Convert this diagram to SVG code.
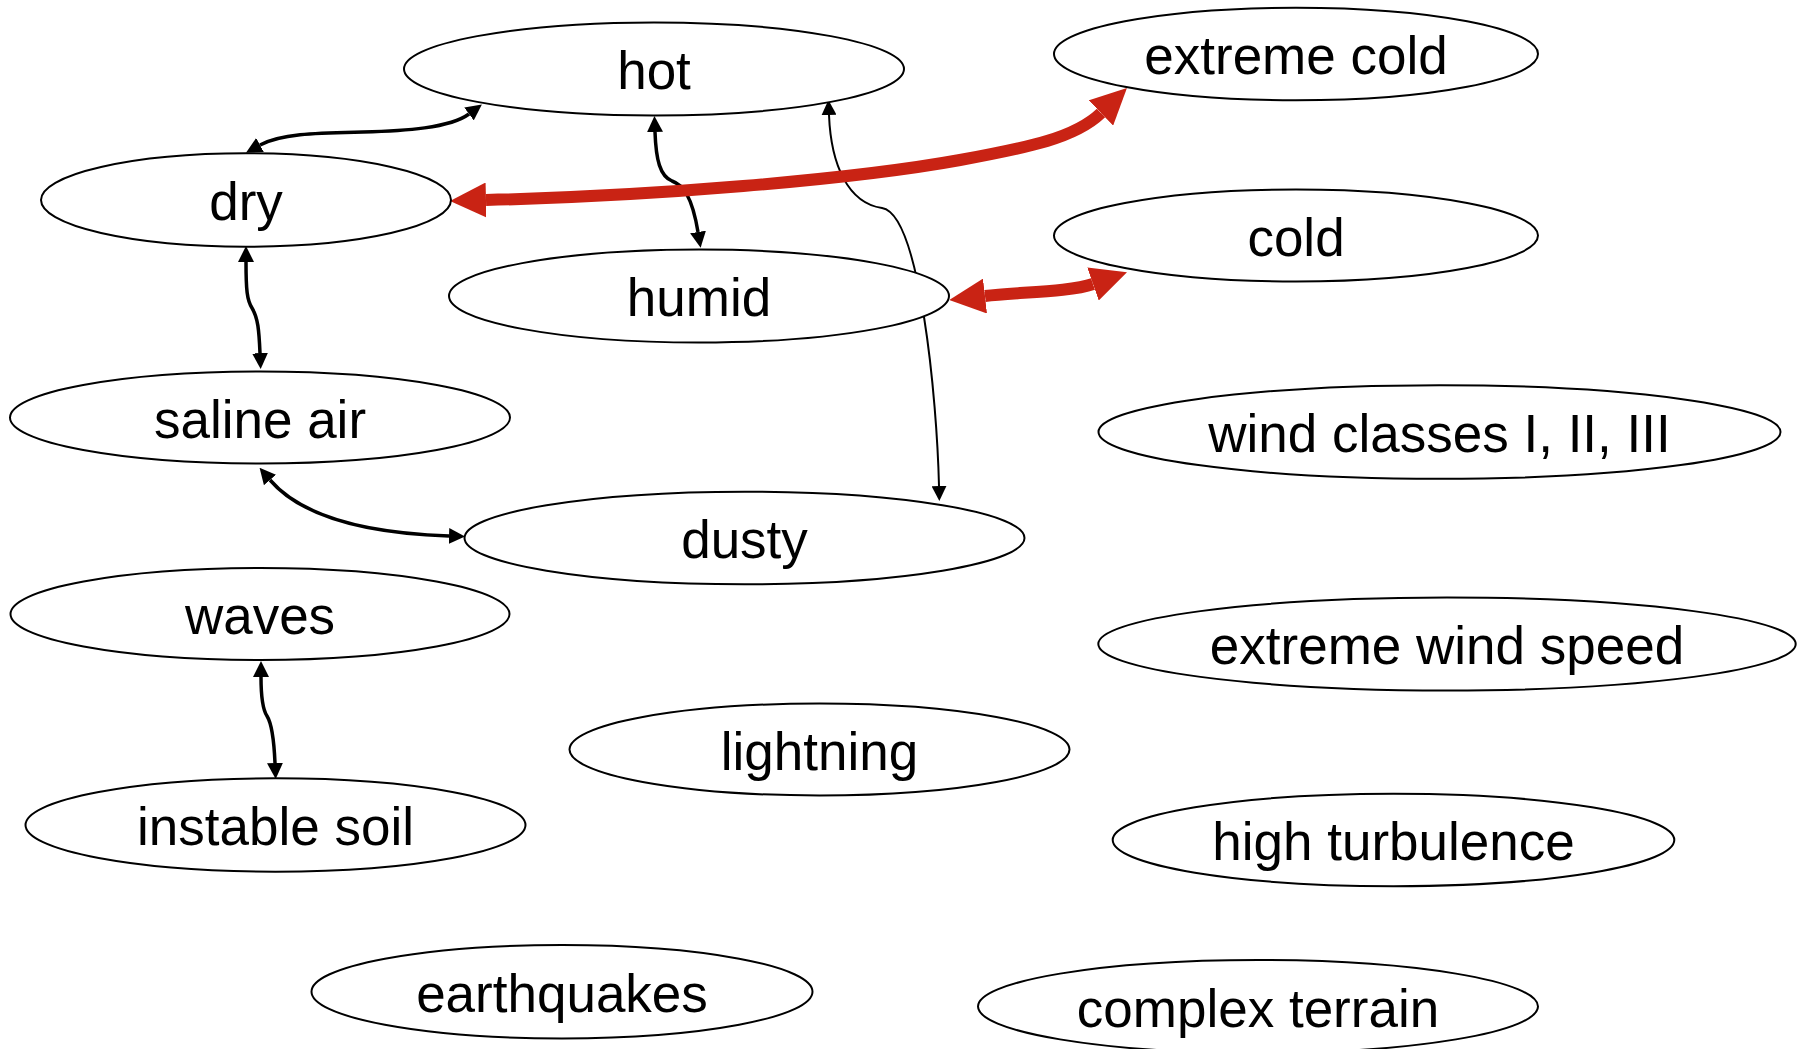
<svg xmlns="http://www.w3.org/2000/svg" width="1804" height="1049" viewBox="0 0 1804 1049">
  <defs>
    <style>
      .node ellipse { fill: #ffffff; stroke: #000000; stroke-width: 2; }
      .node text { font-family: "Liberation Sans", Arial, sans-serif; font-size: 53px; fill: #000000; text-anchor: middle; }
      .edge { fill: none; stroke: #000000; stroke-width: 3.5; }
      .edge.thin { stroke-width: 2; }
      .edge.red { stroke: #c92314; stroke-width: 12; }
    </style>
    <marker id="arrow" markerUnits="userSpaceOnUse" markerWidth="16" markerHeight="16" refX="0" refY="8" orient="auto-start-reverse" viewBox="0 0 16 16">
      <path d="M0,0 L16,8 L0,16 z" fill="#000000"/>
    </marker>
    <marker id="arrow-thin" markerUnits="userSpaceOnUse" markerWidth="15" markerHeight="15" refX="0" refY="7.5" orient="auto-start-reverse" viewBox="0 0 15 15">
      <path d="M0,0 L15,7.5 L0,15 z" fill="#000000"/>
    </marker>
    <marker id="arrow-red" markerUnits="userSpaceOnUse" markerWidth="36" markerHeight="35" refX="0" refY="17.5" orient="auto-start-reverse" viewBox="0 0 36 35">
      <path d="M0,0 L36,17.5 L0,35 z" fill="#c92314"/>
    </marker>
  </defs>

  <rect x="0" y="0" width="1804" height="1049" fill="#ffffff"/>

  <g id="connectors">
    <!-- dry <-> hot -->
    <path class="edge" d="M260,145 C282,133 320,133 363,132 C405,131 450,128 469,114" marker-start="url(#arrow)" marker-end="url(#arrow)"/>
    <!-- hot <-> humid -->
    <path class="edge" d="M655,132 C656,160 660,176 672,181 C683,185 692,196 698,232" marker-start="url(#arrow)" marker-end="url(#arrow)"/>
    <!-- hot <-> dusty -->
    <path class="edge thin" d="M829,115 C831,165 848,203 882,208 C920,214 937,400 939,486" marker-start="url(#arrow-thin)" marker-end="url(#arrow-thin)"/>
    <!-- dry <-> saline air -->
    <path class="edge" d="M246,262 C246,290 247,300 252,308 C258,318 259,330 260,353" marker-start="url(#arrow)" marker-end="url(#arrow)"/>
    <!-- saline air <-> dusty -->
    <path class="edge" d="M270,480 C300,515 360,533 449,536" marker-start="url(#arrow)" marker-end="url(#arrow)"/>
    <!-- waves <-> instable soil -->
    <path class="edge" d="M261,677 C261,700 263,710 267,716 C272,724 274,740 275,763" marker-start="url(#arrow)" marker-end="url(#arrow)"/>
    <!-- dry <-> extreme cold -->
    <path class="edge red" d="M486,200 C650,196 850,180 960,160 C1030,147 1075,138 1101,113" marker-start="url(#arrow-red)" marker-end="url(#arrow-red)"/>
    <!-- humid <-> cold -->
    <path class="edge red" d="M985,296 C1020,292 1070,292 1093,284" marker-start="url(#arrow-red)" marker-end="url(#arrow-red)"/>
  </g>

  <g id="node-hot" class="node">
    <ellipse cx="654" cy="69" rx="250" ry="46.5"/>
    <text x="654" y="89">hot</text>
  </g>
  <g id="node-extreme-cold" class="node">
    <ellipse cx="1296" cy="54" rx="242" ry="46.3"/>
    <text x="1296" y="74">extreme cold</text>
  </g>
  <g id="node-dry" class="node">
    <ellipse cx="246" cy="200" rx="205" ry="46.7"/>
    <text x="246" y="220">dry</text>
  </g>
  <g id="node-cold" class="node">
    <ellipse cx="1296" cy="235.5" rx="242" ry="46"/>
    <text x="1296" y="255.5">cold</text>
  </g>
  <g id="node-humid" class="node">
    <ellipse cx="699" cy="296" rx="250" ry="46.5"/>
    <text x="699" y="316">humid</text>
  </g>
  <g id="node-saline-air" class="node">
    <ellipse cx="260" cy="417.5" rx="250" ry="46"/>
    <text x="260" y="437.5">saline air</text>
  </g>
  <g id="node-wind-classes" class="node">
    <ellipse cx="1439.5" cy="432" rx="341" ry="46.8"/>
    <text x="1439.5" y="452">wind classes I, II, III</text>
  </g>
  <g id="node-dusty" class="node">
    <ellipse cx="744.5" cy="538" rx="280" ry="46.3"/>
    <text x="744.5" y="558">dusty</text>
  </g>
  <g id="node-waves" class="node">
    <ellipse cx="260" cy="614" rx="249.5" ry="46"/>
    <text x="260" y="634">waves</text>
  </g>
  <g id="node-extreme-wind-speed" class="node">
    <ellipse cx="1447" cy="644" rx="348.7" ry="46.5"/>
    <text x="1447" y="664">extreme wind speed</text>
  </g>
  <g id="node-lightning" class="node">
    <ellipse cx="819.5" cy="749.5" rx="250" ry="46"/>
    <text x="819.5" y="769.5">lightning</text>
  </g>
  <g id="node-high-turbulence" class="node">
    <ellipse cx="1393.5" cy="840" rx="280.8" ry="46.2"/>
    <text x="1393.5" y="860">high turbulence</text>
  </g>
  <g id="node-instable-soil" class="node">
    <ellipse cx="275.5" cy="825" rx="250" ry="46.7"/>
    <text x="275.5" y="845">instable soil</text>
  </g>
  <g id="node-earthquakes" class="node">
    <ellipse cx="562" cy="991.7" rx="250.5" ry="46.7"/>
    <text x="562" y="1011.7">earthquakes</text>
  </g>
  <g id="node-complex-terrain" class="node">
    <ellipse cx="1258" cy="1006.5" rx="280" ry="46.5"/>
    <text x="1258" y="1026.5">complex terrain</text>
  </g>
</svg>
